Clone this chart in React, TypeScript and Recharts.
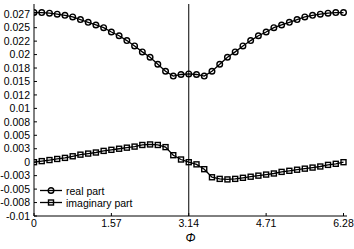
import { LineChart, Line, XAxis, YAxis, ReferenceLine, Legend, Label } from 'recharts';

// phi sampled over [0, 2pi], 41 points
const phi = [
  0, 0.1571, 0.3142, 0.4712, 0.6283, 0.7854, 0.9425, 1.0996, 1.2566, 1.4137,
  1.5708, 1.7279, 1.885, 2.042, 2.1991, 2.3562, 2.5133, 2.6704, 2.8274, 2.9845,
  3.1416, 3.2987, 3.4558, 3.6128, 3.7699, 3.927, 4.0841, 4.2412, 4.3982, 4.5553,
  4.7124, 4.8695, 5.0265, 5.1836, 5.3407, 5.4978, 5.6549, 5.8119, 5.969, 6.1261,
  6.2832,
];

const realPart = [
  0.0278, 0.0278, 0.0277, 0.0275, 0.0273, 0.027, 0.0265, 0.026, 0.0255, 0.025,
  0.0242, 0.0235, 0.0226, 0.0216, 0.0205, 0.0195, 0.0182, 0.0169, 0.016, 0.0163,
  0.0164, 0.0163, 0.016, 0.0169, 0.0182, 0.0195, 0.0205, 0.0216, 0.0226, 0.0235,
  0.0242, 0.025, 0.0255, 0.026, 0.0265, 0.027, 0.0273, 0.0275, 0.0277, 0.0278,
  0.0278,
];

const imagPart = [
  0, 0.0002, 0.0004, 0.0006, 0.0008, 0.0011, 0.0014, 0.0016, 0.0018, 0.0021,
  0.0023, 0.0025, 0.0027, 0.0029, 0.0032, 0.0033, 0.0032, 0.0028, 0.0013, 0.0005,
  0, -0.0004, -0.0013, -0.0028, -0.0031, -0.0032, -0.0031, -0.0029, -0.0027, -0.0025,
  -0.0023, -0.0021, -0.0018, -0.0016, -0.0014, -0.0012, -0.001, -0.0008, -0.0005, -0.0003,
  0,
];

const seriesNames = ['real part', 'imaginary part'];

const xTicks = [0, 1.5708, 3.1416, 4.7124, 6.2832];
const xTickLabels = ['0', '1.57', '3.14', '4.71', '6.28'];

const yTicks = [
  -0.01, -0.0075, -0.005, -0.0025, 0, 0.0025, 0.005, 0.0075,
  0.01, 0.0125, 0.015, 0.0175, 0.02, 0.0225, 0.025, 0.0275,
];
const yTickLabels = [
  '-0.01', '-0.008', '-0.005', '-0.003', '0', '0.003', '0.005', '0.008',
  '0.01', '0.012', '0.015', '0.018', '0.02', '0.022', '0.025', '0.027',
];

const piLine = 3.1416;

const xDomain = [0, 6.354];
const yDomain = [-0.01, 0.0294];

const data = phi.map((p, i) => ({ phi: p, real: realPart[i], imag: imagPart[i] }));

const font = 'Liberation Sans, Arial, Helvetica, sans-serif';
const tickStyle = { fontSize: 10.5, fill: '#000', fontFamily: font };
const markerFill = 'none';

const SquareDot = (props: any) => {
  const { cx, cy, index } = props;
  if (cx == null || cy == null) return null;
  return (
    <rect
      key={`sq-${index}`}
      x={cx - 2.5}
      y={cy - 2.5}
      width={5}
      height={5}
      fill={markerFill}
      stroke="#000"
      strokeWidth={1.4}
    />
  );
};

const renderLegend = (props: any) => {
  const items = [...(props.payload || [])].sort(
    (a: any, b: any) => seriesNames.indexOf(a.value) - seriesNames.indexOf(b.value)
  );
  return (
    <svg width={130} height={26} style={{ display: 'block' }}>
      {items.map((item: any, i: number) => {
        const cy = 6.5 + i * 12;
        const isReal = item.dataKey === 'real';
        return (
          <g key={item.value}>
            <line x1={2} x2={24} y1={cy} y2={cy} stroke="#000" strokeWidth={1.3} />
            {isReal ? (
              <circle cx={13} cy={cy} r={2.8} fill={markerFill} stroke="#000" strokeWidth={1.4} />
            ) : (
              <rect x={10.5} y={cy - 2.5} width={5} height={5} fill={markerFill} stroke="#000" strokeWidth={1.4} />
            )}
            <text x={28} y={cy} dominantBaseline="central" fontSize={10.5} fontFamily={font} fill="#000">
              {item.value}
            </text>
          </g>
        );
      })}
    </svg>
  );
};

export default function App() {
  return (
    <div style={{ position: 'absolute', left: 0, top: 0, background: '#fff' }}>
      <LineChart width={354} height={249} data={data} margin={{ top: 4, right: 7, bottom: 0, left: 4 }}>
        <XAxis
          dataKey="phi"
          type="number"
          domain={xDomain}
          allowDataOverflow
          ticks={xTicks}
          tickFormatter={(v: number) => xTickLabels[xTicks.indexOf(v)] ?? String(v)}
          tick={tickStyle}
          tickSize={-3}
          tickMargin={7}
          height={33}
          axisLine={{ stroke: '#000' }}
          tickLine={{ stroke: '#000' }}
        >
          <Label
            value="Φ"
            position="insideBottom"
            offset={7}
            fontSize={12}
            fontStyle="italic"
            fontFamily={font}
            fill="#000"
          />
        </XAxis>
        <XAxis
          xAxisId="top"
          orientation="top"
          dataKey="phi"
          type="number"
          domain={xDomain}
          allowDataOverflow
          ticks={xTicks}
          tick={false}
          tickSize={-3}
          height={0}
          axisLine={{ stroke: '#000' }}
          tickLine={{ stroke: '#000' }}
        />
        <YAxis
          type="number"
          domain={yDomain}
          allowDataOverflow
          ticks={yTicks}
          interval={0}
          tickFormatter={(v: number) => yTickLabels[yTicks.indexOf(v)] ?? String(v)}
          tick={tickStyle}
          tickSize={-3}
          tickMargin={7}
          width={30}
          axisLine={{ stroke: '#000' }}
          tickLine={{ stroke: '#000' }}
        />
        <YAxis
          yAxisId="right"
          orientation="right"
          type="number"
          domain={yDomain}
          allowDataOverflow
          ticks={yTicks}
          interval={0}
          tick={false}
          tickSize={-3}
          width={0}
          axisLine={{ stroke: '#000' }}
          tickLine={{ stroke: '#000' }}
        />
        <ReferenceLine x={piLine} stroke="#000" strokeWidth={1} />
        <Legend
          layout="vertical"
          align="center"
          verticalAlign="middle"
          content={renderLegend}
          wrapperStyle={{ left: 38, top: 184, width: 130, height: 26 }}
        />
        <Line
          dataKey="real"
          name={seriesNames[0]}
          stroke="#000"
          strokeWidth={1.3}
          dot={{ r: 2.8, stroke: '#000', strokeWidth: 1.4, fill: markerFill }}
          isAnimationActive={false}
        />
        <Line
          dataKey="imag"
          name={seriesNames[1]}
          stroke="#000"
          strokeWidth={1.3}
          dot={SquareDot}
          isAnimationActive={false}
        />
      </LineChart>
    </div>
  );
}
